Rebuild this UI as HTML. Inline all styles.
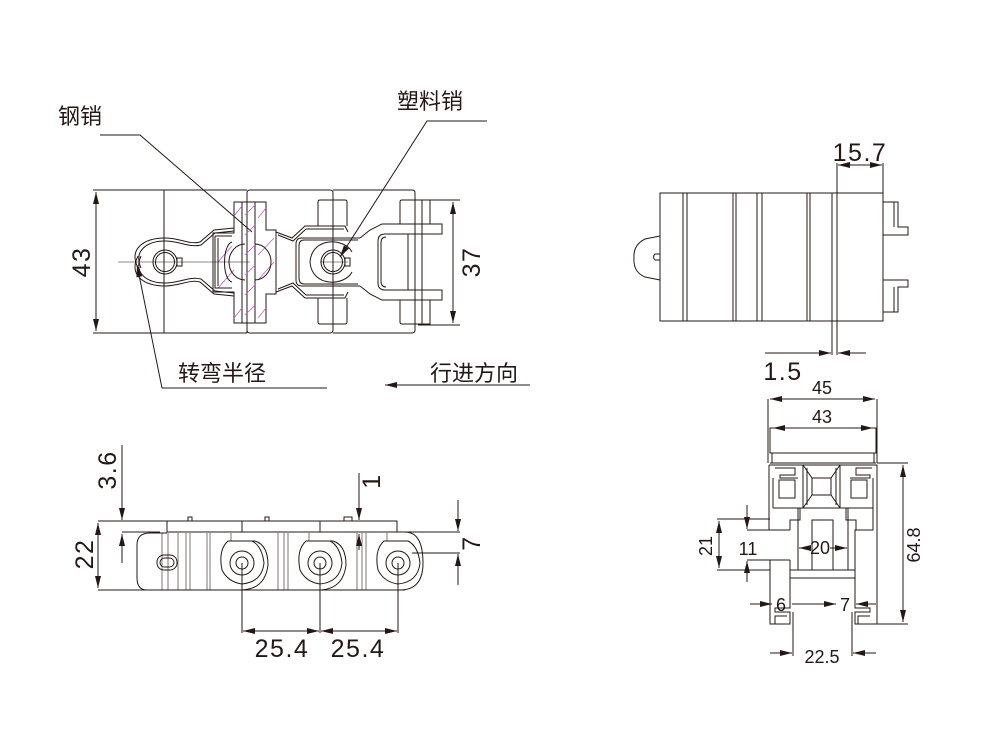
<!DOCTYPE html>
<html><head><meta charset="utf-8"><style>
html,body{margin:0;padding:0;background:#fff;}
svg{display:block;}
text{font-family:"Liberation Sans","Noto Sans CJK SC",sans-serif;fill:#231815;}
.c{font-family:"Liberation Sans","Noto Sans CJK SC",sans-serif;font-size:22px;}
.n{font-size:25px;letter-spacing:1.5px;}
.s{font-size:18px;}
</style></head><body>
<svg width="1000" height="750" viewBox="0 0 1000 750" xmlns="http://www.w3.org/2000/svg">
<defs>
<marker id="a" markerWidth="12" markerHeight="6" refX="12" refY="3" orient="auto" markerUnits="userSpaceOnUse"><path d="M0,0 L12,3 L0,6 Z" fill="#231815"/></marker>
</defs>
<g fill="none" stroke="#231815" stroke-width="1">

<polyline points="100,135 140,135 252,232"/>
<polyline points="487,121 427,121 340,257" marker-end="url(#a)"/>
<polyline points="327,388 162,388 137,265" marker-end="url(#a)"/>
<line x1="530" y1="385" x2="385" y2="385" marker-end="url(#a)"/>
<line x1="93" y1="190" x2="247" y2="190"/>
<line x1="93" y1="333" x2="247" y2="333"/>
<line x1="96" y1="262" x2="96" y2="192" marker-end="url(#a)"/>
<line x1="96" y1="262" x2="96" y2="331" marker-end="url(#a)"/>
<line x1="164" y1="190" x2="164" y2="333"/>
<path d="M247,333 L247,193 Q247,190 250,190 L330,190 Q333,190 333,193 L333,330 Q333,333 330,333 L250,333 Q247,333 247,330"/>
<path d="M333,190 L412,190 Q415,190 415,193 L415,200"/>
<path d="M333,333 L412,333 Q415,333 415,330 L415,323"/>
<line x1="418" y1="200" x2="460" y2="200"/>
<line x1="418" y1="325" x2="460" y2="325"/>
<line x1="453" y1="262" x2="453" y2="202" marker-end="url(#a)"/>
<line x1="453" y1="262" x2="453" y2="323" marker-end="url(#a)"/>
<path d="M234,202 L255,202 L255,323 L234,323 L234,292 L213,292 L213,233 L234,233 Z"/>
<path d="M255,202 L266,202 L266,230 L276,230 L276,294 L266,294 L266,323 L255,323"/>
<rect x="242" y="202" width="13" height="121" fill="none"/>
<g stroke="#c060c0" stroke-width="0.8">
<line x1="245" y1="215" x2="255" y2="205"/><line x1="245" y1="235" x2="255" y2="225"/><line x1="245" y1="255" x2="255" y2="245"/><line x1="245" y1="275" x2="255" y2="265"/><line x1="245" y1="295" x2="255" y2="285"/><line x1="245" y1="315" x2="255" y2="305"/>
<line x1="258" y1="218" x2="266" y2="208"/><line x1="258" y1="255" x2="274" y2="238"/><line x1="258" y1="280" x2="274" y2="262"/><line x1="258" y1="318" x2="266" y2="308"/>
<line x1="218" y1="262" x2="232" y2="246"/><line x1="218" y1="288" x2="234" y2="270"/><line x1="234" y1="216" x2="242" y2="206"/><line x1="234" y1="318" x2="242" y2="308"/>
</g>
<path d="M245,244 A16,18 0 0 0 245,280"/>
<path d="M255,244 A16,18 0 0 1 255,280"/>
<path d="M138,268 C128,248 145,238 165,238 C180,238 190,245 200,242 L214,230 L234,228"/>
<path d="M138,256 C128,276 145,286 165,286 C180,286 190,279 200,282 L214,294 L234,296"/>
<path d="M141,268 C133,250 148,241 165,241 C180,241 189,248 201,245 L215,233 L234,231"/>
<path d="M141,256 C133,274 148,283 165,283 C180,283 189,276 201,279 L215,291 L234,293"/>
<circle cx="165" cy="262" r="12"/><circle cx="165" cy="262" r="9.5"/>
<rect x="177" y="258" width="5" height="8"/>
<path d="M215,236 L232,236 M215,236 L215,288 L232,288 M218,238 L218,286"/>
<path d="M232,242 C222,245 222,280 232,282"/>
<path d="M276,232 L292,238 L305,226 L345,226 L348,232"/>
<path d="M276,292 L292,286 L305,298 L345,298 L348,292"/>
<path d="M278,235 L293,241 L306,229 L344,229"/>
<path d="M278,289 L293,283 L306,295 L344,295"/>
<path d="M360,238 L302,238 Q296,238 296,244 L296,280 Q296,286 302,286 L360,286"/>
<path d="M358,240 L304,240 Q299,240 299,246 L299,278 Q299,284 304,284 L358,284"/>
<path d="M352,252 C345,238 312,236 310,262 C312,288 345,286 352,272"/>
<circle cx="333" cy="262" r="12"/><circle cx="333" cy="262" r="9.5"/>
<rect x="345" y="258" width="5" height="8"/>
<line x1="333" y1="252" x2="333" y2="272"/>
<path d="M318,226 L318,202 Q318,200 320,200 L345,200 Q347,200 347,202 L347,226"/>
<path d="M318,298 L318,322 Q318,324 320,324 L345,324 Q347,324 347,322 L347,298"/>
<line x1="333" y1="200" x2="333" y2="226"/><line x1="333" y1="298" x2="333" y2="324"/>
<path d="M360,238 L370,230 L382,224 L442,224 L442,234 L385,234"/>
<path d="M360,286 L370,294 L382,300 L442,300 L442,290 L385,290"/>
<path d="M385,234 Q378,234 378,241 L378,283 Q378,290 385,290"/>
<path d="M386,237 Q381,237 381,243 L381,281 Q381,287 386,287"/>
<path d="M400,224 L400,202 Q400,200 402,200 L430,200 L430,224"/>
<path d="M400,300 L400,322 Q400,324 402,324 L430,324 L430,300"/>
<line x1="415" y1="200" x2="415" y2="324"/><line x1="422" y1="200" x2="422" y2="324"/>
<line x1="408" y1="234" x2="408" y2="290"/>
<line x1="118" y1="262" x2="250" y2="262" stroke-width="0.6"/>
<line x1="320" y1="262" x2="348" y2="262" stroke-width="0.6"/>

<rect x="660" y="193" width="223" height="128"/>
<line x1="683" y1="193" x2="683" y2="321"/><line x1="687" y1="193" x2="687" y2="321"/>
<line x1="733" y1="193" x2="733" y2="321"/><line x1="736" y1="193" x2="736" y2="321"/>
<line x1="757" y1="193" x2="757" y2="321"/><line x1="762" y1="193" x2="762" y2="321"/>
<line x1="807" y1="193" x2="807" y2="321"/><line x1="810" y1="193" x2="810" y2="321"/>
<line x1="832" y1="193" x2="832" y2="321"/><line x1="837" y1="193" x2="837" y2="321"/>
<path d="M660,236 L645,239 Q633,245 634,258 Q633,272 645,277 L660,280"/>
<path d="M660,254 L655,254 Q652,257 655,260 L660,260"/>
<path d="M883,202 L898,202 L898,227 L908,227 L908,235 L883,235"/>
<line x1="894" y1="202" x2="894" y2="227"/>
<path d="M883,280 L908,280 L908,287 L898,287 L898,312 L883,312"/>
<line x1="894" y1="287" x2="894" y2="312"/>
<line x1="837" y1="193" x2="837" y2="163"/><line x1="883" y1="193" x2="883" y2="163"/>
<line x1="860" y1="165" x2="838" y2="165" marker-end="url(#a)"/>
<line x1="860" y1="165" x2="882" y2="165" marker-end="url(#a)"/>
<line x1="832" y1="321" x2="832" y2="355"/><line x1="837" y1="321" x2="837" y2="355"/>
<line x1="765" y1="353" x2="831" y2="353" marker-end="url(#a)"/>
<line x1="866" y1="353" x2="838" y2="353" marker-end="url(#a)"/>

<rect x="167" y="521" width="230" height="11"/>
<line x1="242" y1="521" x2="242" y2="532"/><line x1="320" y1="521" x2="320" y2="532"/>
<rect x="188" y="517" width="4" height="4"/><rect x="265" y="517" width="4" height="4"/><rect x="344" y="517" width="8" height="4"/>
<path d="M152,590 L147,590 Q137,590 137,578 L137,545 Q137,533 150,533 L167,533"/>
<line x1="147" y1="590" x2="405" y2="590"/>
<path d="M397,532 L405,532 Q423,532 423,563 Q423,590 400,590"/>
<path d="M242,541 L255,541 Q268,545 268,565 Q265,590 240,590"/>
<path d="M320,541 L333,541 Q346,545 346,565 Q343,590 318,590"/>
<path d="M228,541 Q218,550 222,570 Q228,582 242,584 Q262,582 264,563 Q262,546 252,541 Z"/>
<path d="M306,541 Q296,550 300,570 Q306,582 320,584 Q340,582 342,563 Q340,546 330,541 Z"/>
<path d="M384,541 Q374,550 378,570 Q384,582 398,584 Q418,582 420,563 Q418,546 408,541 Z"/>
<circle cx="242" cy="563" r="12"/><circle cx="242" cy="563" r="6"/>
<circle cx="320" cy="563" r="12"/><circle cx="320" cy="563" r="6"/>
<circle cx="398" cy="563" r="12"/><circle cx="398" cy="563" r="6"/>
<rect x="157" y="555" width="20" height="15" rx="7"/>
<rect x="160" y="558" width="14" height="9" rx="4.5"/>
<g stroke-width="0.6">
<line x1="162" y1="533" x2="162" y2="590"/><line x1="168" y1="533" x2="168" y2="590"/><line x1="178" y1="533" x2="178" y2="590"/>
<line x1="186" y1="533" x2="186" y2="590"/><line x1="190" y1="533" x2="190" y2="590"/><line x1="207" y1="533" x2="207" y2="590"/><line x1="210" y1="533" x2="210" y2="590"/>
<line x1="278" y1="533" x2="278" y2="590"/><line x1="284" y1="533" x2="284" y2="590"/><line x1="288" y1="533" x2="288" y2="590"/>
<line x1="357" y1="533" x2="357" y2="590"/><line x1="362" y1="533" x2="362" y2="590"/><line x1="366" y1="533" x2="366" y2="590"/>
<line x1="231" y1="533" x2="231" y2="541"/><line x1="309" y1="533" x2="309" y2="541"/><line x1="387" y1="533" x2="387" y2="541"/>
</g>
<line x1="98" y1="521" x2="167" y2="521"/>
<line x1="98" y1="590" x2="152" y2="590"/>
<line x1="98" y1="556" x2="98" y2="523" marker-end="url(#a)"/>
<line x1="98" y1="556" x2="98" y2="588" marker-end="url(#a)"/>
<line x1="122" y1="445" x2="122" y2="520" marker-end="url(#a)"/>
<line x1="122" y1="532" x2="160" y2="532"/>
<line x1="122" y1="563" x2="122" y2="534" marker-end="url(#a)"/>
<line x1="359" y1="473" x2="359" y2="520" marker-end="url(#a)"/>
<line x1="359" y1="550" x2="359" y2="534" marker-end="url(#a)"/>
<line x1="397" y1="532" x2="460" y2="532"/>
<line x1="412" y1="553" x2="460" y2="553"/>
<line x1="458" y1="500" x2="458" y2="531" marker-end="url(#a)"/>
<line x1="458" y1="585" x2="458" y2="554" marker-end="url(#a)"/>
<line x1="242" y1="563" x2="242" y2="633"/><line x1="320" y1="563" x2="320" y2="633"/><line x1="398" y1="563" x2="398" y2="633"/>
<line x1="281" y1="631" x2="243" y2="631" marker-end="url(#a)"/>
<line x1="281" y1="631" x2="319" y2="631" marker-end="url(#a)"/>
<line x1="359" y1="631" x2="321" y2="631" marker-end="url(#a)"/>
<line x1="359" y1="631" x2="397" y2="631" marker-end="url(#a)"/>

<rect x="770" y="428" width="106" height="25"/>
<path d="M772,453 L772,463 M874,453 L874,463 M770,463 L876,463"/>
<line x1="768" y1="399" x2="768" y2="463"/><line x1="877" y1="399" x2="877" y2="463"/>
<line x1="822" y1="399" x2="770" y2="399" marker-end="url(#a)"/>
<line x1="822" y1="399" x2="875" y2="399" marker-end="url(#a)"/>
<line x1="822" y1="428" x2="773" y2="428" marker-end="url(#a)"/>
<line x1="822" y1="428" x2="873" y2="428" marker-end="url(#a)"/>
<path d="M769,465 L877,465 L877,624 L855,624 L855,612 L870,612 L870,608 L855,608 L855,578 L790,578 L790,608 L775,608 L775,612 L790,612 L790,624 L770,624 L770,560 L790,560 M790,570 L855,570 M769,465 L769,530 L790,530"/>
<line x1="855" y1="560" x2="855" y2="578"/><line x1="790" y1="560" x2="790" y2="578"/>
<path d="M775,624 L775,616 L787,616 M858,624 L858,616 L870,616"/>
<path d="M775,468 L795,468 L795,475 L780,475 L780,478 L798,478 M850,478 L870,478 L870,475 L856,475 L856,468 L872,468"/>
<rect x="779" y="480" width="16" height="18"/><rect x="851" y="480" width="16" height="18"/>
<path d="M773,478 L773,508 M873,478 L873,508 M773,508 L873,508"/>
<path d="M790,530 L790,520 L800,520 L800,508 M856,530 L856,520 L846,520 L846,508"/>
<path d="M855,560 L855,530 L873,530 L873,508"/>
<rect x="803" y="465" width="37" height="43"/>
<path d="M803,465 L812,478 L831,478 L840,465 M803,508 L812,495 L831,495 L840,508 M812,478 L812,495 M831,478 L831,495"/>
<path d="M807,468 L807,505 M836,468 L836,505"/>
<line x1="798" y1="508" x2="798" y2="570"/><line x1="848" y1="508" x2="848" y2="570"/>
<rect x="812" y="520" width="21" height="50"/>
<line x1="877" y1="463" x2="908" y2="463"/><line x1="877" y1="624" x2="908" y2="624"/>
<line x1="903" y1="545" x2="903" y2="465" marker-end="url(#a)"/>
<line x1="903" y1="545" x2="903" y2="622" marker-end="url(#a)"/>
<line x1="717" y1="519" x2="770" y2="519"/><line x1="717" y1="570" x2="770" y2="570"/>
<line x1="719" y1="545" x2="719" y2="521" marker-end="url(#a)"/>
<line x1="719" y1="545" x2="719" y2="568" marker-end="url(#a)"/>
<line x1="747" y1="505" x2="747" y2="529" marker-end="url(#a)"/>
<line x1="747" y1="530" x2="772" y2="530"/>
<line x1="747" y1="582" x2="747" y2="561" marker-end="url(#a)"/>
<line x1="747" y1="560" x2="772" y2="560"/>
<line x1="808" y1="548" x2="799" y2="548" marker-end="url(#a)"/>
<line x1="830" y1="548" x2="847" y2="548" marker-end="url(#a)"/>
<line x1="750" y1="604" x2="772" y2="604" marker-end="url(#a)"/>
<line x1="792" y1="604" x2="836" y2="604" marker-end="url(#a)"/>
<line x1="876" y1="604" x2="856" y2="604" marker-end="url(#a)"/>
<line x1="793" y1="612" x2="793" y2="656"/><line x1="852" y1="612" x2="852" y2="656"/>
<line x1="770" y1="653" x2="792" y2="653" marker-end="url(#a)"/>
<line x1="876" y1="653" x2="853" y2="653" marker-end="url(#a)"/>
</g>

<text class="c" x="58" y="124">钢销</text>
<text class="c" x="397" y="109">塑料销</text>
<text class="c" x="178" y="381">转弯半径</text>
<text class="c" x="430" y="381">行进方向</text>
<text class="n" transform="translate(90,262) rotate(-90)" text-anchor="middle">43</text>
<text class="n" transform="translate(480,262) rotate(-90)" text-anchor="middle">37</text>
<text class="n" x="860" y="161" text-anchor="middle">15.7</text>
<text class="n" x="783" y="380" text-anchor="middle">1.5</text>
<text class="s" x="822" y="394" text-anchor="middle">45</text>
<text class="s" x="822" y="423" text-anchor="middle">43</text>
<text class="s" transform="translate(920,545) rotate(-90)" text-anchor="middle">64.8</text>
<text class="s" transform="translate(712,546) rotate(-90)" text-anchor="middle">21</text>
<text class="s" x="748" y="555" text-anchor="middle">11</text>
<text class="s" x="820" y="554" text-anchor="middle">20</text>
<text class="s" x="781" y="611" text-anchor="middle">6</text>
<text class="s" x="845" y="611" text-anchor="middle">7</text>
<text class="s" x="822" y="663" text-anchor="middle">22.5</text>
<text class="n" transform="translate(116,470) rotate(-90)" text-anchor="middle">3.6</text>
<text class="n" transform="translate(93,554) rotate(-90)" text-anchor="middle">22</text>
<text class="n" transform="translate(380,481) rotate(-90)" text-anchor="middle">1</text>
<text class="n" transform="translate(480,543) rotate(-90)" text-anchor="middle">7</text>
<text class="n" x="282" y="657" text-anchor="middle">25.4</text>
<text class="n" x="358" y="657" text-anchor="middle">25.4</text>
</svg>
</body></html>
